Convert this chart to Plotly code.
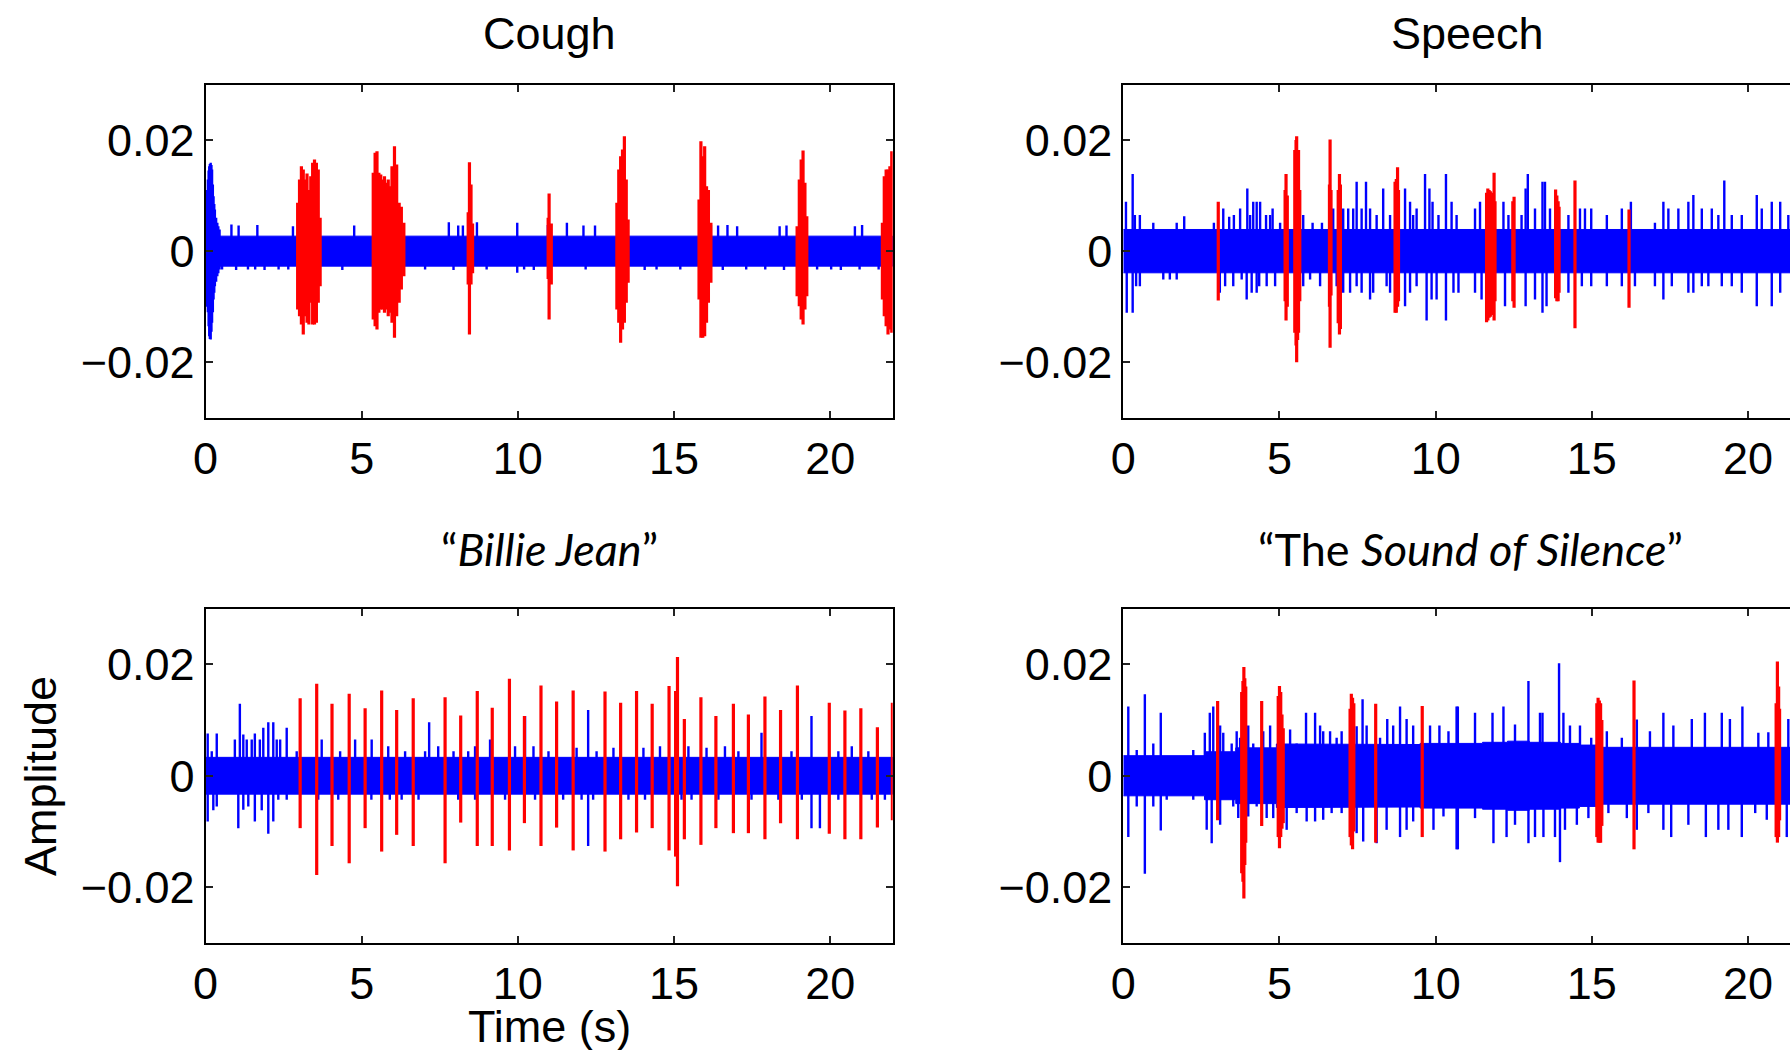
import plotly.graph_objects as go

W, H = 1790, 1050

# ---------------- data ----------------
# Cough
cough_band_t = [0.0, 22.0]
cough_band_h = [0.0027]
cough_burst_t = [0.02, 0.05, 0.076, 0.10, 0.12, 0.14, 0.166, 0.19, 0.21, 0.235, 0.257, 0.28, 0.30, 0.34, 0.378, 0.41, 0.45]
cough_burst_hi = [0.0087, 0.0110, 0.0129, 0.0145, 0.0153, 0.0157, 0.0159, 0.0155, 0.0147, 0.0120, 0.0099, 0.0085, 0.0075, 0.0060, 0.0051, 0.0045, 0.0039]
cough_burst_lo = [-0.0093, -0.0100, -0.0110, -0.0135, -0.0153, -0.0158, -0.0159, -0.0145, -0.0129, -0.0110, -0.0087, -0.0075, -0.0063, -0.0055, -0.0045, -0.0040, -0.0033]
cough_spk_t = [0.83, 1.06, 1.66, 2.80, 4.76, 7.79, 8.09, 8.24, 8.69, 9.98, 10.96, 11.57, 12.10, 12.47, 16.18, 16.41, 16.71, 17.02, 18.38, 18.60, 20.79, 21.02,
               0.53, 0.98, 1.36, 1.59, 1.89, 2.34, 2.65, 4.38, 7.03, 7.94, 9.00, 9.98, 10.20, 10.51, 12.17, 14.06, 14.44, 15.20, 16.56, 17.31, 17.92, 18.52, 19.58, 20.03, 20.34, 20.94, 21.55]
cough_spk_v = [0.0048, 0.0046, 0.0047, 0.0045, 0.0046, 0.0052, 0.0046, 0.0046, 0.0052, 0.0051, 0.0047, 0.0051, 0.0046, 0.0046, 0.0047, 0.0046, 0.0047, 0.0045, 0.0045, 0.0046, 0.0045, 0.0047,
               -0.0033, -0.0034, -0.0033, -0.0033, -0.0034, -0.0033, -0.0033, -0.0034, -0.0033, -0.0034, -0.0033, -0.0039, -0.0033, -0.0034, -0.0033, -0.0034, -0.0033, -0.0033, -0.0034, -0.0033, -0.0033, -0.0034, -0.0033, -0.0033, -0.0034, -0.0033, -0.0033]
cough_red_t = [2.95, 3.01, 3.07, 3.13, 3.19, 3.25, 3.31, 3.37, 3.43, 3.49, 3.55, 3.61, 3.67,
               5.37, 5.43, 5.49, 5.55, 5.61, 5.67, 5.73, 5.79, 5.85, 5.91, 5.97, 6.05, 6.12, 6.20, 6.27, 6.35,
               8.41, 8.45, 8.50, 8.55,
               10.97, 11.00, 11.07,
               13.17, 13.23, 13.29, 13.35, 13.41, 13.47, 13.53,
               15.80, 15.86, 15.92, 15.98, 16.04, 16.10, 16.18,
               18.94, 19.01, 19.07, 19.13, 19.19, 19.25,
               21.67, 21.73, 21.79, 21.85, 21.91, 21.97]
cough_red_hi = [0.0087, 0.0129, 0.0153, 0.0147, 0.0129, 0.0140, 0.0110, 0.0135, 0.0159, 0.0165, 0.0159, 0.0147, 0.0060,
                0.0141, 0.0177, 0.0180, 0.0141, 0.0138, 0.0129, 0.0135, 0.0123, 0.0129, 0.0117, 0.0153, 0.0189, 0.0156, 0.0087, 0.0080, 0.0051,
                0.0070, 0.0160, 0.0120, 0.0050,
                0.0060, 0.0104, 0.0050,
                0.0087, 0.0147, 0.0171, 0.0183, 0.0207, 0.0129, 0.0057,
                0.0093, 0.0198, 0.0171, 0.0189, 0.0117, 0.0110, 0.0051,
                0.0045, 0.0129, 0.0165, 0.0181, 0.0123, 0.0063,
                0.0051, 0.0135, 0.0147, 0.0147, 0.0153, 0.0180]
cough_red_lo = [-0.0105, -0.0117, -0.0132, -0.0150, -0.0117, -0.0129, -0.0132, -0.0093, -0.0132, -0.0132, -0.0129, -0.0093, -0.0063,
                -0.0123, -0.0135, -0.0141, -0.0111, -0.0105, -0.0105, -0.0111, -0.0105, -0.0117, -0.0111, -0.0129, -0.0156, -0.0117, -0.0093, -0.0069, -0.0045,
                -0.0060, -0.0150, -0.0060, -0.0040,
                -0.0050, -0.0123, -0.0060,
                -0.0105, -0.0129, -0.0165, -0.0141, -0.0129, -0.0093, -0.0057,
                -0.0087, -0.0156, -0.0156, -0.0153, -0.0129, -0.0093, -0.0057,
                -0.0081, -0.0099, -0.0123, -0.0132, -0.0105, -0.0081,
                -0.0087, -0.0117, -0.0135, -0.0150, -0.0141, -0.0147]

# Speech
speech_band_t = [0.0, 22.0]
speech_band_h = [0.0039]
speech_burst_t = []
speech_burst_hi = []
speech_burst_lo = []
speech_spk_t = [0.085, 0.30, 0.37, 0.53, 0.96, 1.71, 1.95, 2.90, 3.20, 3.39, 3.54, 3.74, 3.97, 4.06, 4.16, 4.27, 4.38, 4.57, 4.70, 4.78, 5.02, 5.76, 6.06, 6.36, 6.72, 7.04, 7.20, 7.36, 7.47, 7.63, 7.77, 7.90, 8.11, 8.32, 8.54, 9.02, 9.18, 9.28, 9.39, 9.66, 9.80, 9.90, 10.09, 10.33, 10.51, 10.67,
                11.26, 11.42, 12.17, 12.33, 12.75, 12.88, 12.95, 13.18, 13.42, 13.50, 13.66, 14.25, 14.62, 14.78, 14.98, 15.48, 15.96, 16.25, 17.02, 17.29, 17.45, 17.77, 18.09, 18.25, 18.52, 18.84, 19.05, 19.24, 19.48, 19.80, 20.28, 20.44, 20.76, 21.03, 21.29,
                0.11, 0.30, 0.41, 0.53, 1.28, 1.49, 1.71, 3.09, 3.26, 3.52, 3.79, 3.95, 4.11, 4.27, 4.35, 4.59, 4.86, 5.76, 5.98, 6.30, 6.83, 7.04, 7.26, 7.47, 7.63, 7.90, 8.00, 8.43, 8.54, 9.02, 9.18, 9.39, 9.71, 9.87, 10.03, 10.33, 10.57,
                10.73, 11.26, 11.47, 12.22, 12.88, 13.18, 13.42, 13.55, 14.25, 14.68, 14.98, 15.48, 15.96, 16.38, 17.02, 17.29, 17.56, 18.09, 18.25, 18.52, 18.73, 19.16, 19.48, 19.80, 20.28, 20.76, 21.03]
speech_spk_v = [0.0089, 0.0139, 0.0065, 0.0065, 0.0051, 0.0051, 0.0063, 0.0051, 0.0077, 0.0062, 0.0065, 0.0077, 0.0113, 0.0065, 0.0089, 0.0089, 0.0089, 0.0065, 0.0065, 0.0077, 0.0051, 0.0065, 0.0051, 0.0051, 0.0077, 0.0077, 0.0077, 0.0077, 0.0125, 0.0077, 0.0125, 0.0077, 0.0065, 0.0113, 0.0065, 0.0113, 0.0089, 0.0065, 0.0077, 0.0139, 0.0113, 0.0089, 0.0065, 0.0139, 0.0089, 0.0065,
                0.0077, 0.0089, 0.0089, 0.0065, 0.0065, 0.0113, 0.0139, 0.0077, 0.0125, 0.0125, 0.0077, 0.0065, 0.0077, 0.0077, 0.0077, 0.0065, 0.0077, 0.0089, 0.0051, 0.0089, 0.0077, 0.0077, 0.0089, 0.0101, 0.0077, 0.0077, 0.0065, 0.0127, 0.0065, 0.0065, 0.0101, 0.0077, 0.0089, 0.0089, 0.0065,
                -0.0111, -0.0111, -0.0063, -0.0063, -0.0051, -0.0051, -0.0051, -0.0075, -0.0063, -0.0063, -0.0051, -0.0087, -0.0075, -0.0075, -0.0063, -0.0063, -0.0063, -0.0063, -0.0051, -0.0063, -0.0063, -0.0075, -0.0075, -0.0063, -0.0075, -0.0087, -0.0075, -0.0063, -0.0075, -0.0099, -0.0075, -0.0063, -0.0125, -0.0087, -0.0087, -0.0125, -0.0075,
                -0.0075, -0.0075, -0.0087, -0.0099, -0.0099, -0.0087, -0.0111, -0.0099, -0.0075, -0.0063, -0.0063, -0.0063, -0.0063, -0.0063, -0.0063, -0.0087, -0.0063, -0.0075, -0.0075, -0.0063, -0.0063, -0.0063, -0.0063, -0.0075, -0.0099, -0.0099, -0.0075]
speech_red_t = [3.04, 5.18, 5.21, 5.25, 5.49, 5.53, 5.55, 5.58, 5.61, 5.65, 6.60, 6.62, 6.65, 6.88, 6.92, 6.95, 8.70, 8.74, 8.78, 8.81,
                11.63, 11.67, 11.71, 11.75, 11.79, 11.83, 11.87, 11.90, 12.47, 12.51, 13.84, 13.88, 13.92, 13.95, 14.46, 16.19]
speech_red_hi = [0.0089, 0.0110, 0.0139, 0.0100, 0.0182, 0.0200, 0.0207, 0.0170, 0.0182, 0.0110, 0.0120, 0.0201, 0.0110, 0.0110, 0.0139, 0.0120, 0.0125, 0.0130, 0.0151, 0.0110,
                 0.0105, 0.0113, 0.0110, 0.0108, 0.0100, 0.0105, 0.0141, 0.0090, 0.0090, 0.0098, 0.0111, 0.0100, 0.0090, 0.0080, 0.0127, 0.0075]
speech_red_lo = [-0.0089, -0.0090, -0.0125, -0.0100, -0.0147, -0.0170, -0.0200, -0.0160, -0.0147, -0.0090, -0.0100, -0.0174, -0.0080, -0.0130, -0.0150, -0.0140, -0.0111, -0.0111, -0.0100, -0.0090,
                 -0.0128, -0.0125, -0.0120, -0.0118, -0.0110, -0.0115, -0.0125, -0.0090, -0.0090, -0.0102, -0.0085, -0.0090, -0.0090, -0.0075, -0.0139, -0.0102]

# "Billie Jean"
billie_band_t = [0.0, 22.0]
billie_band_h = [0.0033]
billie_burst_t = []
billie_burst_hi = []
billie_burst_lo = []
billie_spk_t = [0.07, 0.20, 0.36, 0.94, 1.10, 1.21, 1.32, 1.48, 1.58, 1.74, 1.85, 2.01, 2.17, 2.28, 2.39, 2.60, 2.92, 3.72, 4.31, 4.79, 5.32, 5.85, 6.39, 7.03, 7.16, 7.45, 7.94, 8.41, 8.63, 9.11, 9.91, 10.23, 10.50, 10.98,
                11.88, 12.25, 12.52, 13.06, 14.02, 14.55, 15.46, 16.04, 16.63, 17.06, 17.80, 18.76, 19.40, 20.26, 20.69, 21.22,
                0.07, 0.25, 0.36, 1.05, 1.21, 1.37, 1.58, 1.80, 2.01, 2.17, 2.33, 2.60, 3.61, 4.25, 5.31, 5.90, 6.28, 6.82, 8.09, 8.63, 9.59, 10.55,
                11.45, 12.04, 12.25, 12.41, 13.54, 14.07, 15.24, 15.56, 16.42, 17.48, 18.34, 19.09, 19.40, 19.67, 20.26, 21.33, 21.75]
billie_spk_v = [0.0076, 0.0044, 0.0076, 0.0065, 0.0129, 0.0074, 0.0065, 0.0065, 0.0076, 0.0065, 0.0086, 0.0096, 0.0096, 0.0065, 0.0065, 0.0086, 0.0044, 0.0065, 0.0044, 0.0065, 0.0065, 0.0053, 0.0044, 0.0044, 0.0096, 0.0053, 0.0044, 0.0044, 0.0053, 0.0065, 0.0053, 0.0107, 0.0053, 0.0044,
                0.0050, 0.0118, 0.0044, 0.0050, 0.0050, 0.0053, 0.0053, 0.0050, 0.0053, 0.0044, 0.0077, 0.0044, 0.0107, 0.0044, 0.0053, 0.0044,
                -0.0082, -0.0062, -0.0055, -0.0094, -0.0061, -0.0055, -0.0082, -0.0062, -0.0104, -0.0082, -0.0043, -0.0043, -0.0043, -0.0043, -0.0043, -0.0043, -0.0043, -0.0043, -0.0043, -0.0043, -0.0043, -0.0043,
                -0.0043, -0.0043, -0.0126, -0.0043, -0.0043, -0.0043, -0.0043, -0.0043, -0.0043, -0.0043, -0.0043, -0.0043, -0.0094, -0.0094, -0.0043, -0.0043, -0.0043]
billie_red_t = [3.03, 3.56, 4.05, 4.60, 5.11, 5.64, 6.12, 6.65, 7.67, 8.17, 8.70, 9.18, 9.73, 10.21, 10.74,
                11.24, 11.77, 12.79, 13.29, 13.80, 14.30, 14.84, 15.05, 15.11, 15.33, 15.86, 16.34, 16.90, 17.38, 17.91, 18.41, 18.95, 19.97, 20.47, 20.98, 21.51, 21.99]
billie_red_hi = [0.0139, 0.0165, 0.0129, 0.0147, 0.0121, 0.0153, 0.0118, 0.0139, 0.0141, 0.0108, 0.0152, 0.0122, 0.0174, 0.0107, 0.0162,
                 0.0133, 0.0153, 0.0151, 0.0131, 0.0152, 0.0129, 0.0161, 0.0152, 0.0213, 0.0102, 0.0141, 0.0107, 0.0129, 0.0110, 0.0142, 0.0118, 0.0162, 0.0131, 0.0117, 0.0121, 0.0087, 0.0131]
billie_red_lo = [-0.0094, -0.0178, -0.0126, -0.0157, -0.0094, -0.0136, -0.0106, -0.0126, -0.0157, -0.0084, -0.0126, -0.0126, -0.0134, -0.0085, -0.0126,
                 -0.0093, -0.0134, -0.0136, -0.0114, -0.0102, -0.0094, -0.0134, -0.0145, -0.0198, -0.0114, -0.0124, -0.0094, -0.0103, -0.0103, -0.0114, -0.0085, -0.0114, -0.0104, -0.0114, -0.0114, -0.0093, -0.0080]

# "The Sound of Silence"
sound_band_t = [0.0, 2.6, 3.6, 4.9, 7.2, 9.5, 11.5, 12.3, 13.0, 14.0, 14.6, 15.3, 22.0]
sound_band_h = [0.0036, 0.0043, 0.0050, 0.0057, 0.0056, 0.0058, 0.0060, 0.0062, 0.0060, 0.0058, 0.0055, 0.0051]
sound_burst_t = []
sound_burst_hi = []
sound_burst_lo = []
sound_spk_t = [0.16, 0.43, 0.69, 0.96, 1.20, 2.24, 2.61, 2.77, 2.88, 3.10, 3.20, 3.47, 3.63, 3.74, 4.00, 4.16, 4.48, 4.70, 5.34, 5.55, 5.85, 6.14, 6.30, 6.40, 6.62, 6.83, 6.99, 7.47, 7.66, 7.79, 8.22, 8.45, 8.64, 8.86, 9.07, 9.28, 9.82, 10.12, 10.41, 10.67,
               10.71, 11.26, 11.82, 12.17, 12.54, 12.97, 13.34, 13.42, 13.95, 14.09, 14.30, 14.62, 14.98, 15.48, 15.96, 16.44, 16.86, 17.29, 17.61, 18.20, 18.62, 19.16, 19.42, 19.82, 20.33, 20.65, 21.29,
               0.16, 0.43, 0.69, 0.96, 1.20, 1.39, 2.24, 2.67, 2.83, 3.10, 3.52, 3.68, 4.00, 4.27, 4.59, 4.80, 5.23, 5.55, 5.87, 6.14, 6.40, 6.67, 6.99, 7.47, 7.68, 8.11, 8.43, 8.86, 9.07, 9.28, 9.93, 10.25, 10.67,
               10.71, 11.26, 11.85, 12.27, 12.54, 12.97, 13.18, 13.45, 13.82, 13.98, 14.14, 14.52, 14.89, 15.53, 16.12, 16.44, 16.81, 17.29, 17.54, 18.09, 18.65, 19.05, 19.37, 19.80, 20.23, 20.60, 21.24]
sound_spk_v = [0.0124, 0.0046, 0.0146, 0.0058, 0.0113, 0.0046, 0.0077, 0.0113, 0.0124, 0.0090, 0.0077, 0.0058, 0.0080, 0.0068, 0.0090, 0.0058, 0.0080, 0.0090, 0.0083, 0.0058, 0.0113, 0.0113, 0.0090, 0.0080, 0.0080, 0.0068, 0.0080, 0.0089, 0.0137, 0.0090, 0.0068, 0.0102, 0.0090, 0.0124, 0.0102, 0.0090, 0.0090, 0.0090, 0.0080, 0.0124,
               0.0124, 0.0113, 0.0113, 0.0124, 0.0092, 0.0170, 0.0113, 0.0113, 0.0202, 0.0113, 0.0090, 0.0090, 0.0068, 0.0080, 0.0068, 0.0101, 0.0080, 0.0113, 0.0090, 0.0102, 0.0113, 0.0113, 0.0102, 0.0124, 0.0077, 0.0078, 0.0102,
               -0.0110, -0.0055, -0.0176, -0.0055, -0.0098, -0.0043, -0.0043, -0.0097, -0.0121, -0.0088, -0.0055, -0.0076, -0.0073, -0.0055, -0.0076, -0.0076, -0.0097, -0.0067, -0.0082, -0.0082, -0.0079, -0.0067, -0.0067, -0.0103, -0.0118, -0.0121, -0.0097, -0.0110, -0.0097, -0.0082, -0.0097, -0.0073, -0.0132,
               -0.0132, -0.0076, -0.0121, -0.0110, -0.0088, -0.0121, -0.0110, -0.0110, -0.0110, -0.0155, -0.0097, -0.0088, -0.0076, -0.0067, -0.0076, -0.0097, -0.0067, -0.0097, -0.0110, -0.0088, -0.0110, -0.0097, -0.0097, -0.0110, -0.0067, -0.0079, -0.0110]
sound_red_t = [3.02, 3.79, 3.83, 3.86, 3.89, 3.92, 4.43, 4.96, 5.00, 5.04, 5.08, 5.12, 7.26, 7.30, 7.34, 7.38, 8.08, 9.57,
               15.16, 15.20, 15.24, 15.28, 15.32, 16.35, 20.90, 20.94, 20.98, 21.01]
sound_red_hi = [0.0134, 0.0150, 0.0170, 0.0195, 0.0175, 0.0160, 0.0134, 0.0143, 0.0161, 0.0150, 0.0110, 0.0085, 0.0120, 0.0147, 0.0140, 0.0130, 0.0129, 0.0125,
                0.0130, 0.0140, 0.0135, 0.0130, 0.0100, 0.0171, 0.0130, 0.0205, 0.0160, 0.0120]
sound_red_lo = [-0.0080, -0.0175, -0.0190, -0.0220, -0.0160, -0.0120, -0.0090, -0.0110, -0.0130, -0.0110, -0.0095, -0.0085, -0.0110, -0.0125, -0.0132, -0.0100, -0.0120, -0.0110,
                -0.0110, -0.0120, -0.0120, -0.0120, -0.0090, -0.0132, -0.0110, -0.0120, -0.0110, -0.0080]

x_ticks = [0, 5, 10, 15, 20]
y_ticks = [-0.02, 0, 0.02]
y_ticktext = ["\u22120.02", "0", "0.02"]
titles = ["Cough", "Speech", "\u201c<i>Billie Jean</i>\u201d", "\u201cThe <i>Sound of Silence</i>\u201d"]

# ---------------- layout geometry (pixels) ----------------
BLUE = "#0000ff"
RED = "#ff0000"
FONT = "Liberation Sans, Arial, Helvetica, sans-serif"
TITLE_FONT = "Lato, Liberation Sans, sans-serif"

def px_x(p):
    return p / W

def px_y(p):
    return 1 - p / H

left_dom = [px_x(205.5), px_x(892.7)]
right_dom = [px_x(1123.3), 1.0]
top_dom = [px_y(417.8), px_y(84.5)]
bot_dom = [px_y(943.0), px_y(608.5)]
px_per_unit = (892.7 - 205.5) / 22.0
right_max = (W - 1123.3) / px_per_unit

panels = [
    dict(band=(cough_band_t, cough_band_h), burst=(cough_burst_t, cough_burst_hi, cough_burst_lo),
         spk=(cough_spk_t, cough_spk_v), red=(cough_red_t, cough_red_hi, cough_red_lo),
         xd=left_dom, yd=top_dom, xmax=22.0, left=True),
    dict(band=(speech_band_t, speech_band_h), burst=(speech_burst_t, speech_burst_hi, speech_burst_lo),
         spk=(speech_spk_t, speech_spk_v), red=(speech_red_t, speech_red_hi, speech_red_lo),
         xd=right_dom, yd=top_dom, xmax=right_max, left=False),
    dict(band=(billie_band_t, billie_band_h), burst=(billie_burst_t, billie_burst_hi, billie_burst_lo),
         spk=(billie_spk_t, billie_spk_v), red=(billie_red_t, billie_red_hi, billie_red_lo),
         xd=left_dom, yd=bot_dom, xmax=22.0, left=True),
    dict(band=(sound_band_t, sound_band_h), burst=(sound_burst_t, sound_burst_hi, sound_burst_lo),
         spk=(sound_spk_t, sound_spk_v), red=(sound_red_t, sound_red_hi, sound_red_lo),
         xd=right_dom, yd=bot_dom, xmax=right_max, left=False),
]

fig = go.Figure()

def segs(ts, his, los):
    xs, ys = [], []
    for t, hi, lo in zip(ts, his, los):
        xs += [t, t, None]
        ys += [lo, hi, None]
    return xs, ys

layout_axes = {}
for i, p in enumerate(panels):
    n = "" if i == 0 else str(i + 1)
    xa, ya = "x" + n, "y" + n
    bt, bh = p["band"]
    bx, by = [], []
    for k, h in enumerate(bh):
        bx += [bt[k], bt[k + 1]]
        by += [h, h]
    for k in reversed(range(len(bh))):
        bx += [bt[k + 1], bt[k]]
        by += [-bh[k], -bh[k]]
    fig.add_trace(go.Scatter(x=bx, y=by, fill="toself", fillcolor=BLUE, mode="lines",
                             line=dict(color=BLUE, width=1), xaxis=xa, yaxis=ya,
                             hoverinfo="skip", showlegend=False))
    st, sv = p["spk"]
    sx, sy = segs(st, sv, [0.0] * len(sv))
    fig.add_trace(go.Scatter(x=sx, y=sy, mode="lines", line=dict(color=BLUE, width=2.4),
                             xaxis=xa, yaxis=ya, hoverinfo="skip", showlegend=False))
    if p["burst"][0]:
        ux, uy = segs(*p["burst"])
        fig.add_trace(go.Scatter(x=ux, y=uy, mode="lines", line=dict(color=BLUE, width=2.4),
                                 xaxis=xa, yaxis=ya, hoverinfo="skip", showlegend=False))
    rx, ry = segs(*p["red"])
    fig.add_trace(go.Scatter(x=rx, y=ry, mode="lines", line=dict(color=RED, width=3.2),
                             xaxis=xa, yaxis=ya, hoverinfo="skip", showlegend=False))

    common = dict(showline=True, linecolor="black", linewidth=2, ticks="inside", ticklen=7,
                  tickwidth=1.5, tickcolor="#222", showgrid=False, zeroline=False,
                  automargin=False,
                  tickfont=dict(family=FONT, size=45, color="black"))
    layout_axes["xaxis" + n] = dict(common, domain=p["xd"], range=[0, p["xmax"]], anchor=ya,
                                    tickvals=x_ticks, ticktext=[str(v) for v in x_ticks],
                                    mirror="ticks", ticklabelstandoff=0)
    layout_axes["yaxis" + n] = dict(common, domain=p["yd"], range=[-0.03, 0.03], anchor=xa,
                                    tickvals=y_ticks, ticktext=y_ticktext,
                                    mirror="ticks" if p["left"] else False, ticklabelstandoff=0)

ann = []
title_pos = [(549, 33), (1467, 33), (549, 549), (1470, 549)]
for i, (tx, ty) in enumerate(title_pos):
    fam = FONT if i < 2 else TITLE_FONT
    ann.append(dict(text=titles[i], x=px_x(tx), y=px_y(ty), xref="paper", yref="paper",
                    showarrow=False, xanchor="center", yanchor="middle",
                    font=dict(family=fam, size=45, color="black")))
ann.append(dict(text="Amplitude", x=px_x(40), y=px_y(776), xref="paper", yref="paper",
                showarrow=False, textangle=-90, xanchor="center", yanchor="middle",
                font=dict(family=FONT, size=45, color="black")))
ann.append(dict(text="Time (s)", x=px_x(549), y=px_y(1026), xref="paper", yref="paper",
                showarrow=False, xanchor="center", yanchor="middle",
                font=dict(family=FONT, size=45, color="black")))

fig.update_layout(width=W, height=H, autosize=False, margin=dict(l=0, r=0, t=0, b=0, autoexpand=False),
                  paper_bgcolor="white", plot_bgcolor="white", showlegend=False,
                  annotations=ann, **layout_axes)

fig.write_html("out.html", config={"displayModeBar": False},
               post_script="document.body.style.margin='0';document.body.style.overflow='hidden';")
